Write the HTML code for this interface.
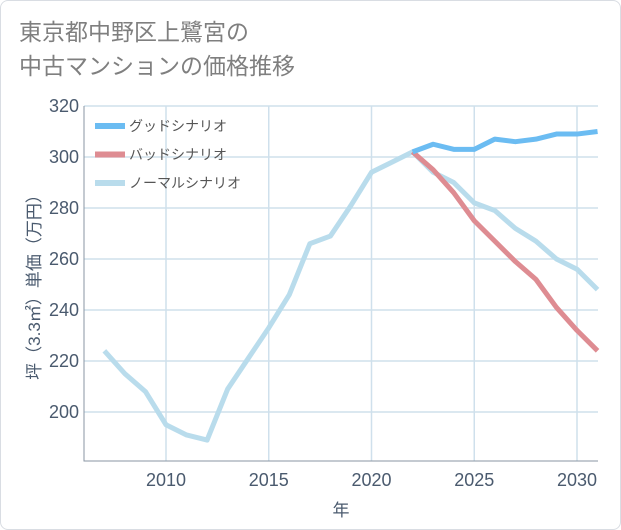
<!DOCTYPE html>
<html><head><meta charset="utf-8"><style>
body{margin:0;background:#fff;}
.wrap{position:relative;width:619px;height:528px;border:1px solid #d9dde3;border-radius:8px;overflow:hidden;background:#fff;}
.title{position:absolute;left:18px;top:14px;font:23px "Liberation Sans","Noto Sans CJK JP",sans-serif;color:#7f7f7f;line-height:34px;}
svg{position:absolute;left:0;top:0;}
</style></head><body>
<div class="wrap">
<div class="title">東京都中野区上鷺宮の<br>中古マンションの価格推移</div>
<svg id="c" width="621" height="530" font-family="Liberation Sans, Noto Sans CJK JP, sans-serif"></svg>
</div>
<script>
const years=[2007,2008,2009,2010,2011,2012,2013,2014,2015,2016,2017,2018,2019,2020,2021,2022,2023,2024,2025,2026,2027,2028,2029,2030,2031];
const normal=[224,215,208,195,191,189,209,221,233,246,266,269,281,294,298,302,294,290,282,279,272,267,260,256,248];
const goodYears=[2022,2023,2024,2025,2026,2027,2028,2029,2030,2031];
const good=[302,305,303,303,307,306,307,309,309,310];
const bad=[302,295,286,275,267,259,252,241,232,224];
const xTicks=[2010,2015,2020,2025,2030];
const yTicks=[200,220,240,260,280,300,320];
const L=83,R=597,T=105,B=460;
const x=v=>165+(v-2010)*(576-165)/20;
const y=v=>105+(320-v)*51/20;
const s=document.getElementById('c');const NS='http://www.w3.org/2000/svg';
function mk(t,a,p){const e=document.createElementNS(NS,t);for(const k in a)e.setAttribute(k,a[k]);(p||s).appendChild(e);return e;}
for(const t of xTicks){const g=mk('line',{x1:x(t),x2:x(t),y1:T,y2:B,stroke:'#cfe0ec','stroke-width':1.5});

const l=mk('text',{x:x(t),y:B+25,'text-anchor':'middle','font-size':18,fill:'#4a5a6e'});l.textContent=t;
}
for(const t of yTicks){const g=mk('line',{x1:L,x2:R,y1:y(t),y2:y(t),stroke:'#cfe0ec','stroke-width':1.5});

const l=mk('text',{x:L-5,y:y(t)+6,'text-anchor':'end','font-size':18,fill:'#4a5a6e'});l.textContent=t;
}
const ax=mk('path',{d:`M${L},${T}V${B}H${R}`,fill:'none',stroke:'#8a96a3','stroke-width':1});

function line(xs,ys,c,n){const p=mk('polyline',{points:xs.map((v,i)=>x(v)+','+y(ys[i])).join(' '),fill:'none',stroke:c,'stroke-width':5,'stroke-linejoin':'round'});
}
line(years,normal,'#b9dcec','normal-scenario-line');
line(goodYears,bad,'#de8c92','bad-scenario-line');
line(goodYears,good,'#6bbcf2','good-scenario-line');
const leg=[['グッドシナリオ','#6bbcf2'],['バッドシナリオ','#de8c92'],['ノーマルシナリオ','#b9dcec']];
leg.forEach((d,i)=>{const yy=125+i*28.5;
const r=mk('rect',{x:94,y:yy-3,width:30,height:6,fill:d[1]});
const t=mk('text',{x:128,y:yy+5,'font-size':14,fill:'#555'});t.textContent=d[0];});
const yt=mk('text',{transform:'translate(39,282) rotate(-90)','text-anchor':'middle','font-size':17,fill:'#4a5a6e'});yt.textContent='坪（3.3㎡）単価（万円）';

const xt=mk('text',{x:340,y:515,'text-anchor':'middle','font-size':17,fill:'#4a5a6e'});xt.textContent='年';

</script>
</body></html>
